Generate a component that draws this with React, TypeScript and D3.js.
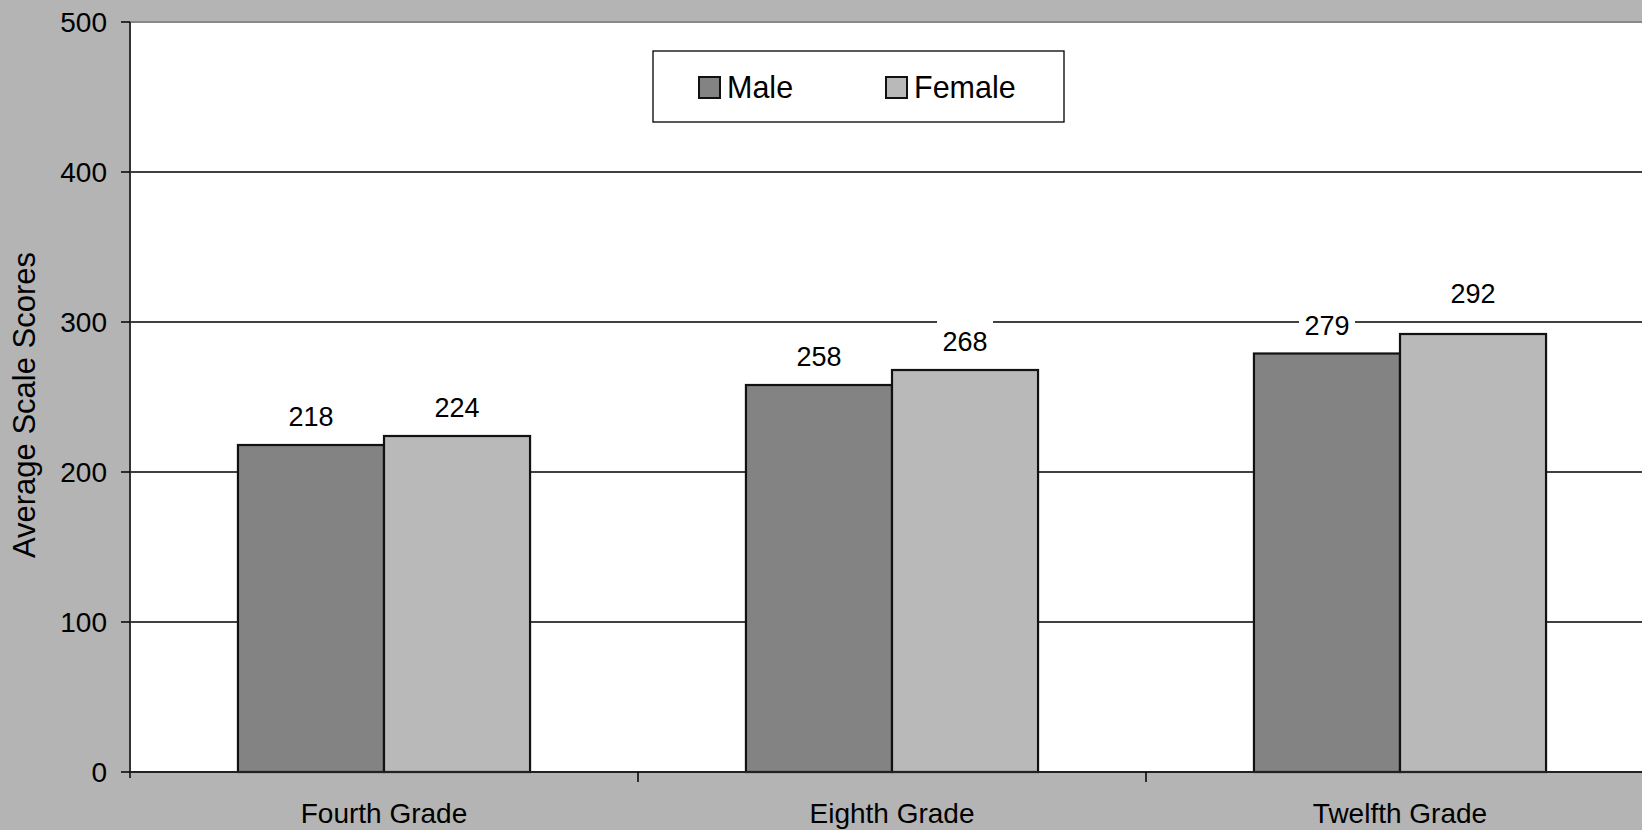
import React from "react";
import * as d3 from "d3";

const grades = ["Fourth Grade", "Eighth Grade", "Twelfth Grade"];
const series = ["Male", "Female"];
const maleScores = [218, 258, 279];
const femaleScores = [224, 268, 292];
const yTicks = [0, 100, 200, 300, 400, 500];

const W = 1642;
const H = 830;
const left = 130;
const top = 22;
const bottom = 772;
const categoryWidth = 508;
const groupRatio = 0.575;
const font = "'Liberation Sans', Arial, sans-serif";
const bg = "#b4b4b4";
const fills: Record<string, string> = { Male: "#838383", Female: "#b9b9b9" };
// extra lift for a label that would otherwise sit on a gridline
const labelLift: Record<string, number> = { "Twelfth Grade|Female": 12 };

export default function App() {
  const y = d3.scaleLinear().domain([0, 500]).range([bottom, top]);
  const x = d3
    .scaleBand<string>()
    .domain(grades)
    .range([left, left + categoryWidth * grades.length])
    .padding(0);
  const bw = x.bandwidth();
  const inner = d3
    .scaleBand<string>()
    .domain(series)
    .range([(bw * (1 - groupRatio)) / 2, (bw * (1 + groupRatio)) / 2])
    .padding(0);

  const rows = grades.map((g, i) => ({
    grade: g,
    values: [
      { key: "Male", v: maleScores[i] },
      { key: "Female", v: femaleScores[i] },
    ],
  }));

  return (
    <svg
      width={W}
      height={H}
      style={{ position: "absolute", left: 0, top: 0, fontFamily: font }}
    >
      <rect x={0} y={0} width={W} height={H} fill={bg} />
      <rect x={left} y={top} width={W - left} height={bottom - top} fill="#fff" />
      {/* plot top border */}
      <line x1={left} x2={W} y1={top} y2={top} stroke="#888" strokeWidth={2} />
      {/* gridlines */}
      {yTicks
        .filter((t) => t > 0 && t < 500)
        .map((t) => (
          <line key={t} x1={left} x2={W} y1={y(t)} y2={y(t)} stroke="#000" strokeWidth={1.3} />
        ))}
      {/* bars */}
      {rows.map((r) =>
        r.values.map((d) => (
          <rect
            key={r.grade + d.key}
            x={(x(r.grade) as number) + (inner(d.key) as number)}
            y={y(d.v)}
            width={inner.bandwidth()}
            height={y(0) - y(d.v)}
            fill={fills[d.key]}
            stroke="#111"
            strokeWidth={2.2}
          />
        ))
      )}
      {/* value labels with white backing */}
      {rows.map((r) =>
        r.values.map((d) => {
          const cx = (x(r.grade) as number) + (inner(d.key) as number) + inner.bandwidth() / 2;
          const base = y(d.v) - 19 - (labelLift[r.grade + "|" + d.key] || 0);
          return (
            <g key={"l" + r.grade + d.key}>
              <rect x={cx - 28} y={base - 30} width={56} height={34} fill="#fff" />
              <text x={cx} y={base} textAnchor="middle" fontSize={27} fill="#000">
                {d.v}
              </text>
            </g>
          );
        })
      )}
      {/* y axis */}
      <line x1={left} x2={left} y1={top} y2={bottom + 6} stroke="#333" strokeWidth={2} />
      <line x1={left} x2={W} y1={bottom} y2={bottom} stroke="#222" strokeWidth={2} />
      {yTicks.map((t) => (
        <g key={"yt" + t}>
          <line x1={left - 9} x2={left} y1={y(t)} y2={y(t)} stroke="#000" strokeWidth={1.5} />
          <text x={107} y={y(t)} dy="0.36em" textAnchor="end" fontSize={28} fill="#000">
            {t}
          </text>
        </g>
      ))}
      {/* category ticks and labels */}
      {grades.map((g, i) => (
        <g key={"x" + g}>
          {i > 0 && (
            <line
              x1={x(g) as number}
              x2={x(g) as number}
              y1={bottom}
              y2={bottom + 10}
              stroke="#000"
              strokeWidth={1.5}
            />
          )}
          <text
            x={(x(g) as number) + bw / 2}
            y={823}
            textAnchor="middle"
            fontSize={28}
            fill="#000"
          >
            {g}
          </text>
        </g>
      ))}
      <text
        transform={`translate(35,405) rotate(-90)`}
        textAnchor="middle"
        fontSize={31}
        fill="#000"
      >
        Average Scale Scores
      </text>
      {/* legend */}
      <rect x={653} y={51} width={411} height={71} fill="#fff" stroke="#000" strokeWidth={1.3} />
      {series.map((s, i) => {
        const sx = i === 0 ? 699 : 886;
        return (
          <g key={"lg" + s}>
            <rect x={sx} y={77} width={21} height={21} fill={fills[s]} stroke="#111" strokeWidth={2} />
            <text x={sx + 28} y={98} fontSize={30.5} fill="#000">
              {s}
            </text>
          </g>
        );
      })}
    </svg>
  );
}
